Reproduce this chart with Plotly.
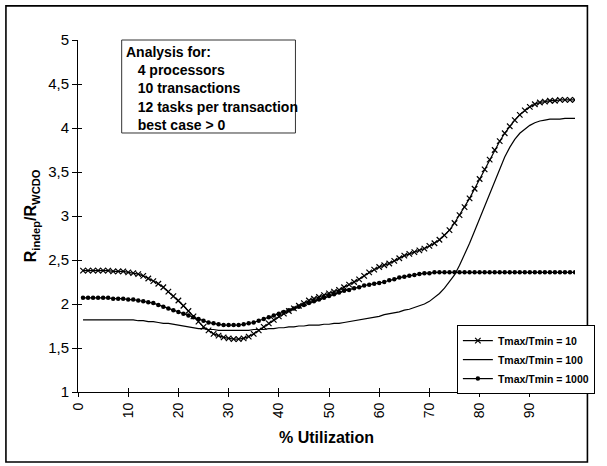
import plotly.graph_objects as go

utilization = list(range(1, 100))

ratio_tmax10 = [
    2.38, 2.38, 2.38, 2.38, 2.38, 2.38, 2.37, 2.37, 2.37, 2.36,
    2.35, 2.34, 2.32, 2.29, 2.26, 2.23, 2.19, 2.14, 2.09, 2.04,
    1.98, 1.92, 1.86, 1.80, 1.74, 1.70, 1.66, 1.64, 1.62, 1.61,
    1.60, 1.60, 1.61, 1.63, 1.66, 1.70, 1.74, 1.78, 1.82, 1.86,
    1.89, 1.92, 1.95, 1.98, 2.01, 2.04, 2.06, 2.08, 2.10, 2.12,
    2.14, 2.16, 2.19, 2.22, 2.25, 2.28, 2.32, 2.36, 2.39, 2.42,
    2.44, 2.46, 2.49, 2.52, 2.55, 2.57, 2.59, 2.61, 2.63, 2.66,
    2.69, 2.73, 2.78, 2.84, 2.92, 3.01, 3.10, 3.20, 3.31, 3.42,
    3.53, 3.64, 3.75, 3.85, 3.94, 4.02, 4.09, 4.15, 4.20, 4.24,
    4.27, 4.29, 4.30, 4.31, 4.31, 4.32, 4.32, 4.32, 4.32,
]

ratio_tmax100 = [
    1.82, 1.82, 1.82, 1.82, 1.82, 1.82, 1.82, 1.82, 1.82, 1.82,
    1.82, 1.81, 1.81, 1.80, 1.80, 1.79, 1.78, 1.78, 1.77, 1.76,
    1.75, 1.74, 1.73, 1.72, 1.72, 1.71, 1.71, 1.70, 1.70, 1.70,
    1.70, 1.70, 1.70, 1.70, 1.71, 1.71, 1.71, 1.72, 1.72, 1.73,
    1.73, 1.74, 1.74, 1.75, 1.75, 1.76, 1.76, 1.76, 1.77, 1.77,
    1.78, 1.78, 1.79, 1.80, 1.81, 1.82, 1.83, 1.84, 1.85, 1.86,
    1.88, 1.89, 1.90, 1.91, 1.93, 1.94, 1.96, 1.98, 2.00, 2.03,
    2.07, 2.12, 2.18, 2.25, 2.33, 2.44, 2.56, 2.69, 2.83, 2.97,
    3.11, 3.26, 3.41, 3.55, 3.67, 3.78, 3.87, 3.94, 3.99, 4.03,
    4.06, 4.08, 4.09, 4.10, 4.10, 4.10, 4.11, 4.11, 4.11,
]

ratio_tmax1000 = [
    2.07, 2.07, 2.07, 2.07, 2.07, 2.07, 2.06, 2.06, 2.06, 2.05,
    2.05, 2.04, 2.03, 2.02, 2.01, 1.99, 1.97, 1.95, 1.93, 1.91,
    1.89, 1.87, 1.85, 1.83, 1.81, 1.79, 1.78, 1.77, 1.76, 1.76,
    1.76, 1.76, 1.77, 1.78, 1.79, 1.81, 1.83, 1.85, 1.87, 1.89,
    1.91, 1.93, 1.95, 1.97, 1.99, 2.01, 2.03, 2.05, 2.07, 2.09,
    2.11, 2.13, 2.15, 2.16, 2.18, 2.19, 2.21, 2.22, 2.23, 2.24,
    2.25, 2.27, 2.28, 2.30, 2.31, 2.32, 2.33, 2.34, 2.35, 2.35,
    2.36, 2.36, 2.36, 2.36, 2.36, 2.36, 2.36, 2.36, 2.36, 2.36,
    2.36, 2.36, 2.36, 2.36, 2.36, 2.36, 2.36, 2.36, 2.36, 2.36,
    2.36, 2.36, 2.36, 2.36, 2.36, 2.36, 2.36, 2.36, 2.36,
]

series_names = ["Tmax/Tmin = 10", "Tmax/Tmin = 100", "Tmax/Tmin = 1000"]

x_tick_values = [0, 10, 20, 30, 40, 50, 60, 70, 80, 90]
x_tick_labels = ["0", "10", "20", "30", "40", "50", "60", "70", "80", "90"]
y_tick_values = [1, 1.5, 2, 2.5, 3, 3.5, 4, 4.5, 5]
y_tick_labels = ["1", "1,5", "2", "2,5", "3", "3,5", "4", "4,5", "5"]

info_lines = [
    "Analysis for:",
    "4 processors",
    "10 transactions",
    "12 tasks per transaction",
    "best case > 0",
]

FONT = "Liberation Sans, Arial, Helvetica, sans-serif"
INK = "#000000"

fig = go.Figure()

fig.add_trace(go.Scatter(
    x=utilization, y=ratio_tmax10, name=series_names[0],
    mode="lines+markers",
    line=dict(color=INK, width=1.2),
    marker=dict(symbol="x-thin", size=5.5, color=INK, line=dict(color=INK, width=1.2)),
))
fig.add_trace(go.Scatter(
    x=utilization, y=ratio_tmax100, name=series_names[1],
    mode="lines",
    line=dict(color=INK, width=1.2),
))
fig.add_trace(go.Scatter(
    x=utilization, y=ratio_tmax1000, name=series_names[2],
    mode="lines+markers",
    line=dict(color=INK, width=1.2),
    marker=dict(symbol="circle", size=4.5, color=INK),
))
# invisible trace to anchor the overlay axes (used only for cross-style ticks)
fig.add_trace(go.Scatter(
    x=utilization, y=ratio_tmax100, xaxis="x2", yaxis="y2",
    mode="lines", line=dict(width=0), opacity=0,
    showlegend=False, hoverinfo="skip",
))

info_text = "<br>".join(
    [info_lines[0]] + ["\u00a0\u00a0\u00a0" + s for s in info_lines[1:]]
)

fig.update_layout(
    width=607, height=466,
    margin=dict(l=78, r=17, t=40, b=74),
    paper_bgcolor="white", plot_bgcolor="white",
    font=dict(family=FONT, color=INK, size=14),
    separators=",.",
    showlegend=True,
    legend=dict(
        x=1.04, xanchor="right", y=0.19, yanchor="top",
        bgcolor="white", bordercolor=INK, borderwidth=1,
        font=dict(family=FONT, size=10.5, color=INK, weight="bold"),
        tracegroupgap=0, itemwidth=30,
    ),
    xaxis=dict(
        range=[0, 99], tickvals=x_tick_values, ticktext=x_tick_labels,
        tickangle=-90, showgrid=False, zeroline=False,
        showline=True, linecolor=INK, linewidth=1,
        ticks="outside", ticklen=4, tickcolor=INK, tickwidth=1,
        tickfont=dict(size=14),
    ),
    yaxis=dict(
        range=[1, 5], tickvals=y_tick_values, ticktext=y_tick_labels,
        showgrid=False, zeroline=False,
        showline=True, linecolor=INK, linewidth=1,
        ticks="outside", ticklen=5, tickcolor=INK, tickwidth=1,
        tickfont=dict(size=15),
    ),
    xaxis2=dict(
        overlaying="x", anchor="y2", side="bottom", range=[0, 99],
        tickvals=x_tick_values, showticklabels=False, showgrid=False,
        zeroline=False, showline=False,
        ticks="inside", ticklen=4, tickcolor=INK, tickwidth=1,
    ),
    yaxis2=dict(
        overlaying="y", anchor="x2", side="left", range=[1, 5],
        tickvals=y_tick_values, showticklabels=False, showgrid=False,
        zeroline=False, showline=False,
        ticks="inside", ticklen=4, tickcolor=INK, tickwidth=1,
    ),
    shapes=[
        dict(type="rect", xref="paper", yref="paper",
             x0=-0.145, x1=1.025, y0=-0.199, y1=1.097,
             line=dict(color=INK, width=1.6), fillcolor="rgba(0,0,0,0)", layer="below"),
        dict(type="rect", xref="paper", yref="paper",
             x0=0.0879, x1=0.4375, y0=0.7358, y1=1.0,
             line=dict(color="#333333", width=1), fillcolor="white", layer="below"),
    ],
    annotations=[
        dict(text=info_text, xref="paper", yref="paper",
             x=0.0918, y=0.993, xanchor="left", yanchor="top",
             align="left", showarrow=False,
             font=dict(family=FONT, size=14, color=INK, weight="bold")),
        dict(text="R<sub>indep</sub>/R<sub>WCDO</sub>", xref="paper", yref="paper",
             x=-0.094, y=0.5, xanchor="center", yanchor="middle", textangle=-90,
             showarrow=False,
             font=dict(family=FONT, size=16, color=INK, weight="bold")),
        dict(text="% Utilization", xref="paper", yref="paper",
             x=0.5, y=-0.128, xanchor="center", yanchor="middle",
             showarrow=False,
             font=dict(family=FONT, size=16, color=INK, weight="bold")),
    ],
)

fig.write_html("out.html")
